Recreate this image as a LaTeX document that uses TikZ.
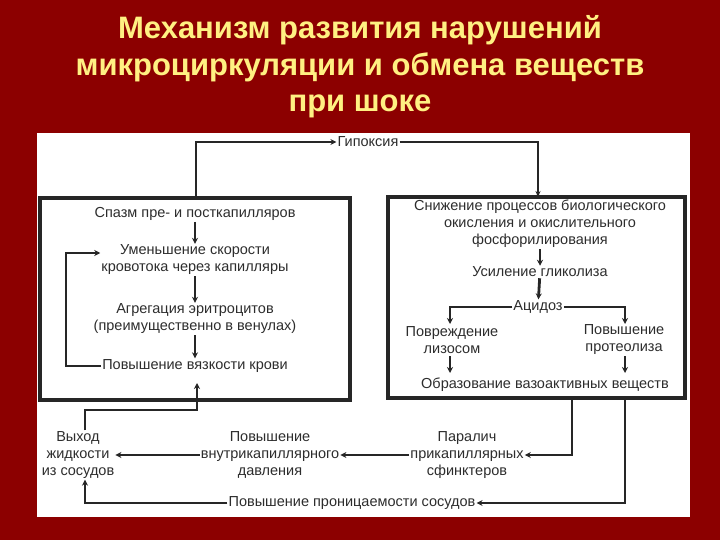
\documentclass[tikz,border=0pt]{standalone}
\usepackage{fontspec}
\setmainfont{Liberation Sans}
\usetikzlibrary{arrows.meta,calc}
\definecolor{bg}{RGB}{140,0,0}
\definecolor{ttl}{RGB}{255,240,130}
\definecolor{txt}{RGB}{45,45,45}
\begin{document}
\begin{tikzpicture}[x=1pt,y=-1pt,
  t/.style={text=txt,font=\fontsize{14.5}{17}\selectfont,align=center,inner sep=1pt},
  box/.style={draw=black!85,line width=3.5pt},
  con/.style={draw=black!85,line width=2.8pt,-{Stealth[length=6pt,width=6pt]}},
  thin/.style={draw=black!85,line width=1.5pt,-{Stealth[length=6pt,width=5pt]}}]
\fill[bg] (0,0) rectangle (720,540);
\useasboundingbox (0,0) rectangle (720,540);
\fill[white] (37,133) rectangle (690,517);
\node[text=ttl,font=\bfseries\fontsize{31}{36.5}\selectfont,align=center] (title) at (360,67)
 {Механизм развития нарушений\\микроциркуляции и обмена веществ\\при шоке};
\draw[box] (40,198) rectangle (350,400);
\draw[box] (388,197) rectangle (685,398);
% left box
\node[t] (spasm) at (195,214) {Спазм пре- и посткапилляров};
\node[t] (speed) at (195,260) {Уменьшение скорости\\кровотока через капилляры};
\node[t] (aggr) at (195,319) {Агрегация эритроцитов\\(преимущественно в венулах)};
\node[t] (visc) at (195,366) {Повышение вязкости крови};
\draw[con] (spasm) -- (speed);
\draw[con] (speed) -- (aggr);
\draw[con] (aggr) -- (visc);
\draw[con] (visc.west) -- (66,366) -- (66,253) -- (speed.west |- 0,253);
% hypoxia
\node[t] (hyp) at (368,142) {Гипоксия};
\coordinate (ltop) at (196,198);
\coordinate (rtop) at (538,197);
\draw[con] (ltop) -- (196,142) -- (hyp.west);
\draw[thin] (hyp.east) -- (538,142) -- (rtop);
% right box
\node[t] (ox) at (540,224) {Снижение процессов биологического\\окисления и окислительного\\фосфорилирования};
\node[t] (gly) at (540,272) {Усиление гликолиза};
\node[t] (acid) at (538,307) {Ацидоз};
\node[t] (lys) at (452,340) {Повреждение\\лизосом};
\node[t] (prot) at (624,340) {Повышение\\протеолиза};
\node[t] (vaso) at (545,385) {Образование вазоактивных веществ};
\draw[con] (ox) -- (gly);
\draw[con] (gly) -- (acid);
\draw[con] (acid.west) -- (450,307) -- (450,324);
\draw[con] (acid.east) -- (625,307) -- (625,324);
\draw[con] (450,356) -- (450,373);
\draw[con] (625,356) -- (625,373);
% bottom
\node[t] (par) at (467,455) {Паралич\\прикапиллярных\\сфинктеров};
\node[t] (pres) at (270,455) {Повышение\\внутрикапиллярного\\давления};
\node[t] (out) at (78,455) {Выход\\жидкости\\из сосудов};
\node[t] (perm) at (352,503) {Повышение проницаемости сосудов};
\coordinate (rb1) at (572,398);
\coordinate (rb2) at (625,398);
\coordinate (lb) at (197,383);
\draw[con] (rb1) -- (572,455) -- (par.east);
\draw[con] (par.west) -- (pres.east);
\draw[con] (pres.west) -- (out.east);
\draw[con] (rb2) -- (625,503) -- (perm.east);
\draw[con] (perm.west) -- (85,503) -- (out.south -| 85,0);
\draw[con] (out.north -| 85,0) -- (85,410) -- (197,410) -- (lb);
\end{tikzpicture}
\end{document}
